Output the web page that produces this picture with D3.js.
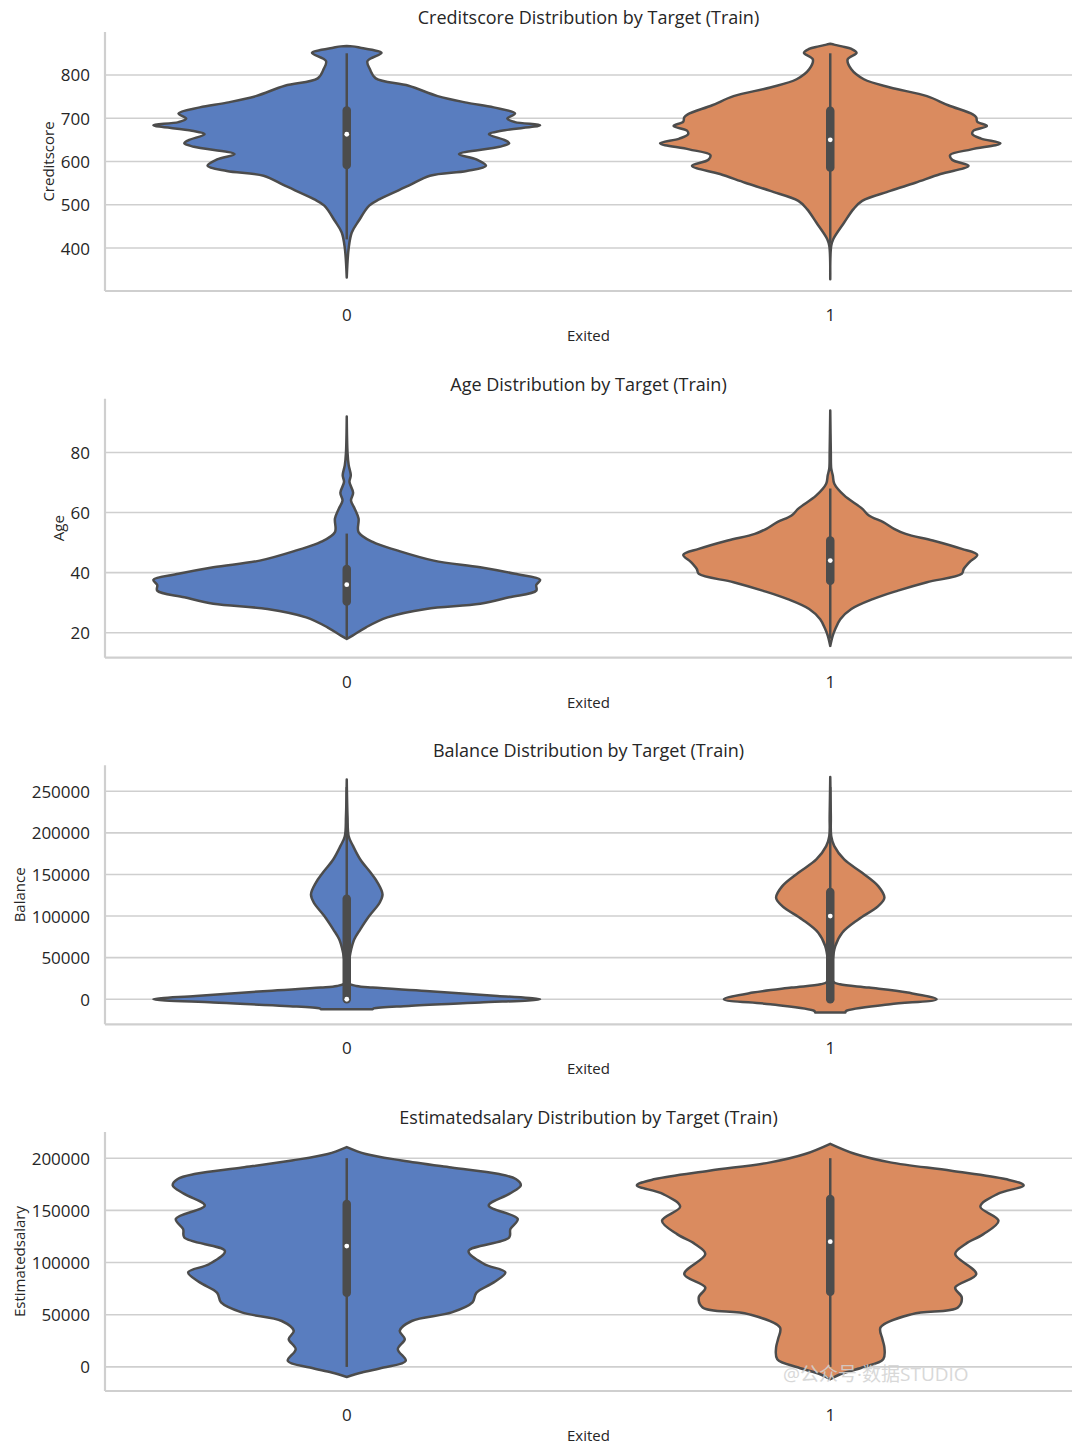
<!DOCTYPE html>
<html>
<head>
<meta charset="utf-8">
<script src="https://cdn.jsdelivr.net/npm/d3@7"></script>
<style>
body { margin: 0; background: #ffffff; }
text { font-family: "Open Sans", "Lato", "DejaVu Sans", sans-serif; fill: #262626; }
</style>
</head>
<body>
<script>
// categories of the target
var categories = ["0", "1"];
var features = ["Creditscore", "Age", "Balance", "Estimatedsalary"];

// tick labels of each y axis
var creditTicks = [400, 500, 600, 700, 800];
var ageTicks = [20, 40, 60, 80];
var balanceTicks = [0, 50000, 100000, 150000, 200000, 250000];
var salaryTicks = [0, 50000, 100000, 150000, 200000];

// violin profiles: [value, relative density]
var creditDensity0 = [[332, 0], [400, 0.01], [436, 0.026], [463, 0.062], [498, 0.116], [513, 0.17], [544, 0.32], [567, 0.43], [578, 0.62], [590, 0.72], [605, 0.67], [617, 0.58], [634, 0.79], [642, 0.84], [649, 0.82], [663, 0.735], [671, 0.8], [684, 1.0], [691, 0.87], [699, 0.83], [711, 0.87], [725, 0.76], [736, 0.62], [751, 0.47], [775, 0.32], [792, 0.15], [813, 0.12], [832, 0.107], [851, 0.18], [858, 0.13], [863, 0.07], [866, 0.03], [867, 0]];
var creditDensity1 = [[328, 0], [405, 0.005], [421, 0.016], [459, 0.072], [490, 0.12], [509, 0.165], [532, 0.31], [551, 0.44], [571, 0.57], [590, 0.715], [604, 0.63], [615, 0.62], [628, 0.73], [642, 0.88], [653, 0.78], [663, 0.735], [671, 0.74], [682, 0.81], [692, 0.76], [702, 0.755], [709, 0.737], [730, 0.61], [751, 0.5], [771, 0.31], [790, 0.174], [813, 0.109], [836, 0.09], [851, 0.136], [860, 0.11], [866, 0.06], [870, 0.02], [872, 0]];
var ageDensity0 = [[17.9, 0], [19, 0.03], [21.8, 0.1], [25.1, 0.21], [27.9, 0.41], [29.6, 0.69], [31.8, 0.84], [34, 0.98], [35.9, 0.98], [37.6, 1.0], [39.6, 0.87], [41.8, 0.69], [44, 0.45], [47.4, 0.26], [50.2, 0.134], [53.5, 0.061], [58, 0.061], [61.3, 0.041], [64, 0.022], [66.6, 0.033], [70.2, 0.014], [72.4, 0.021], [75.8, 0.01], [80, 0.004], [92, 0]];
var ageDensity1 = [[15.6, 0], [19, 0.013], [21.2, 0.026], [24.5, 0.052], [27.9, 0.109], [31.2, 0.22], [34, 0.35], [36.8, 0.5], [39.6, 0.68], [41.2, 0.69], [43.5, 0.72], [45.9, 0.76], [47.9, 0.68], [50.7, 0.53], [52.9, 0.39], [54.6, 0.33], [56.8, 0.274], [59, 0.2], [61.3, 0.165], [65.7, 0.072], [69.6, 0.021], [72.4, 0.013], [74.7, 0.005], [80, 0.003], [94, 0]];
var balanceDensity0 = [[-12000, 0.134], [-11000, 0.14], [-8000, 0.32], [-4000, 0.69], [0, 1.0], [4000, 0.78], [10000, 0.41], [14000, 0.134], [16000, 0.05], [19000, 0.012], [24000, 0.009], [40000, 0.009], [56000, 0.019], [72000, 0.039], [84000, 0.07], [100000, 0.116], [116000, 0.17], [126000, 0.185], [140000, 0.16], [152000, 0.124], [168000, 0.07], [184000, 0.033], [196000, 0.01], [220000, 0.004], [264000, 0]];
var balanceDensity1 = [[-16000, 0.078], [-14000, 0.083], [-6000, 0.31], [0, 0.55], [8000, 0.4], [14000, 0.2], [18000, 0.05], [21000, 0.016], [32000, 0.01], [48000, 0.013], [64000, 0.026], [80000, 0.062], [96000, 0.145], [112000, 0.248], [122000, 0.28], [136000, 0.248], [152000, 0.165], [168000, 0.072], [184000, 0.021], [196000, 0.005], [220000, 0.003], [267000, 0]];
var salaryDensity0 = [[-9600, 0], [-5400, 0.078], [-600, 0.19], [5800, 0.305], [17000, 0.264], [26600, 0.3], [34600, 0.274], [44000, 0.336], [52200, 0.543], [61800, 0.65], [71000, 0.67], [81000, 0.76], [90600, 0.82], [98600, 0.71], [111000, 0.63], [124000, 0.84], [132000, 0.846], [141800, 0.884], [154600, 0.734], [165800, 0.84], [174000, 0.9], [180000, 0.874], [185000, 0.78], [191000, 0.54], [197800, 0.284], [204000, 0.098], [210600, 0]];
var salaryDensity1 = [[-11800, 0], [-7000, 0.052], [-600, 0.165], [7400, 0.274], [18600, 0.28], [26600, 0.27], [37800, 0.26], [50600, 0.424], [57000, 0.66], [66600, 0.68], [76000, 0.646], [89000, 0.755], [108200, 0.646], [117800, 0.7], [127000, 0.79], [140000, 0.87], [153600, 0.776], [165800, 0.866], [174000, 1.0], [180000, 0.905], [188000, 0.626], [196000, 0.31], [204000, 0.13], [213800, 0]];

// inner box: [whisker low, q1, median, q3, whisker high]
var creditBox0 = [420, 592, 663, 718, 850];
var creditBox1 = [410, 586, 650, 717, 850];
var ageBox0 = [18, 30.4, 36, 41.2, 53];
var ageBox1 = [18, 37.3, 44, 50.7, 68];
var balanceBox0 = [0, 0, 0, 120800, 255000];
var balanceBox1 = [0, 0, 100000, 128800, 255000];
var salaryBox0 = [0, 71000, 115800, 156000, 200000];
var salaryBox1 = [0, 72000, 120000, 161000, 200000];

var panels = [
	{ name : features[0], ticks : creditTicks, density : [ creditDensity0, creditDensity1 ], box : [ creditBox0, creditBox1 ] },
	{ name : features[1], ticks : ageTicks, density : [ ageDensity0, ageDensity1 ], box : [ ageBox0, ageBox1 ] },
	{ name : features[2], ticks : balanceTicks, density : [ balanceDensity0, balanceDensity1 ], box : [ balanceBox0, balanceBox1 ] },
	{ name : features[3], ticks : salaryTicks, density : [ salaryDensity0, salaryDensity1 ], box : [ salaryBox0, salaryBox1 ] }
];

var width = 1080, height = 1454;
var left = 105, right = 1072;
var panelTop = 32, panelStep = 366.67, panelHeight = 259;
var palette = [ "#597dbf", "#da8b5f" ];
var gray = "#4c4c4c";
var light = "#cfcfcf";

var svg = d3.select("body").append("svg")//
.attr("width", width)//
.attr("height", height);

panels.forEach(function(p, i) {
	drawPanel(p, panelTop + i * panelStep);
});

// watermark
svg.append("text")//
.attr("x", 783)//
.attr("y", 1381)//
.style("font-family", "'Open Sans', 'Noto Sans CJK SC', sans-serif")//
.style("font-size", "19px")//
.style("fill", "#d2d2d2")//
.style("opacity", 0.85)//
.text("@公众号·数据STUDIO");

function drawPanel(p, top) {
	var g = svg.append("g").attr("transform", "translate(0," + top + ")");

	var x = d3.scaleBand().domain(categories).range([ left, right ]);
	var values = p.density[0].concat(p.density[1]).map(function(d) {
		return d[0];
	});
	var ext = d3.extent(values);
	var pad = (ext[1] - ext[0]) * 0.05;
	var y = d3.scaleLinear().domain([ ext[0] - pad, ext[1] + pad ]).range([ panelHeight, 0 ]);
	var w = d3.scaleLinear().domain([ 0, 1 ]).range([ 0, x.bandwidth() * 0.4 ]);

	// grid
	g.selectAll(".grid").data(p.ticks).enter().append("line")//
	.attr("x1", left).attr("x2", right)//
	.attr("y1", function(d) { return y(d); })//
	.attr("y2", function(d) { return y(d); })//
	.attr("stroke", light)//
	.attr("stroke-width", 1.6);

	// y axis labels
	var yAxis = g.append("g").attr("transform", "translate(" + left + ",0)")//
	.call(d3.axisLeft(y).tickValues(p.ticks).tickSize(0).tickPadding(15).tickFormat(d3.format("d")));
	yAxis.select(".domain").remove();
	yAxis.selectAll("text").attr("font-size", 17).attr("font-family", null).attr("dy", "0.35em");

	// x axis labels
	var xAxis = g.append("g").attr("transform", "translate(0," + panelHeight + ")")//
	.call(d3.axisBottom(x).tickSize(0).tickPadding(18));
	xAxis.select(".domain").remove();
	xAxis.selectAll("text").attr("font-size", 17).attr("font-family", null);

	// spines
	g.append("line").attr("x1", left).attr("x2", left).attr("y1", 0).attr("y2", panelHeight)//
	.attr("stroke", light).attr("stroke-width", 2.2);
	g.append("line").attr("x1", left).attr("x2", right).attr("y1", panelHeight).attr("y2", panelHeight)//
	.attr("stroke", light).attr("stroke-width", 2.2);

	// violins
	categories.forEach(function(c, k) {
		var cx = x(c) + x.bandwidth() / 2;
		var area = d3.area()//
		.y(function(d) { return y(d[0]); })//
		.x0(function(d) { return cx - w(d[1]); })//
		.x1(function(d) { return cx + w(d[1]); })//
		.curve(d3.curveCatmullRom.alpha(0.5));

		g.append("path").datum(p.density[k])//
		.attr("d", area)//
		.attr("fill", palette[k])//
		.attr("stroke", gray)//
		.attr("stroke-width", 2.5)//
		.attr("stroke-linejoin", "round");

		var b = p.box[k];
		g.append("line").attr("x1", cx).attr("x2", cx)//
		.attr("y1", y(b[0])).attr("y2", y(b[4]))//
		.attr("stroke", gray).attr("stroke-width", 2.5);
		g.append("line").attr("x1", cx).attr("x2", cx)//
		.attr("y1", y(b[1])).attr("y2", y(b[3]))//
		.attr("stroke", gray).attr("stroke-width", 8.5)//
		.attr("stroke-linecap", "round");
		g.append("circle").attr("cx", cx).attr("cy", y(b[2]))//
		.attr("r", 2.4).attr("fill", "#ffffff");
	});

	// title
	g.append("text")//
	.attr("x", (left + right) / 2)//
	.attr("y", -8)//
	.attr("text-anchor", "middle")//
	.attr("font-size", 18)//
	.text(p.name + " Distribution by Target (Train)");

	// x label
	g.append("text")//
	.attr("x", (left + right) / 2)//
	.attr("y", panelHeight + 50)//
	.attr("text-anchor", "middle")//
	.attr("font-size", 15)//
	.text("Exited");

	// y label, placed left of tick labels
	var bb = yAxis.node().getBBox();
	var lx = left + bb.x - 7;
	g.append("text")//
	.attr("transform", "translate(" + lx + "," + (panelHeight / 2) + ") rotate(-90)")//
	.attr("text-anchor", "middle")//
	.attr("font-size", 15)//
	.text(p.name);
}
</script>
</body>
</html>
